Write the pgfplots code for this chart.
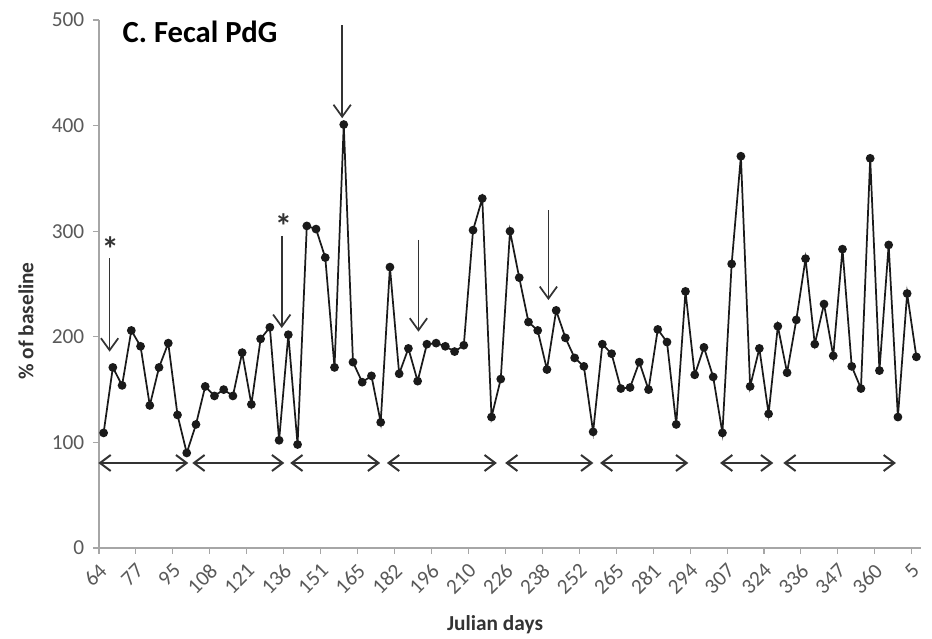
\documentclass[border=0pt]{standalone}
\usepackage{pgfplots}
\pgfplotsset{compat=1.18}
\usepackage{pgfplotstable}
\usepackage{fontspec}
\setmainfont{Carlito}
\usetikzlibrary{arrows.meta}
\definecolor{axgray}{HTML}{A6A6A6}
\definecolor{lblgray}{HTML}{595959}
\definecolor{linecol}{HTML}{1A1A1A}
\definecolor{arrcol}{HTML}{333333}
\pgfplotstableread{
i v
0 109
1 171
2 154
3 206
4 191
5 135
6 171
7 194
8 126
9 90
10 117
11 153
12 144
13 150
14 144
15 185
16 136
17 198
18 209
19 102
20 202
21 98
22 305
23 302
24 275
25 171
26 401
27 176
28 157
29 163
30 119
31 266
32 165
33 189
34 158
35 193
36 194
37 191
38 186
39 192
40 301
41 331
42 124
43 160
44 300
45 256
46 214
47 206
48 169
49 225
50 199
51 180
52 172
53 110
54 193
55 184
56 151
57 152
58 176
59 150
60 207
61 195
62 117
63 243
64 164
65 190
66 162
67 109
68 269
69 371
70 153
71 189
72 127
73 210
74 166
75 216
76 274
77 193
78 231
79 182
80 283
81 172
82 151
83 369
84 168
85 287
86 124
87 241
88 181
}\pdgdata
\tikzset{
  varr/.style={arrcol, line width=1.3pt, -{Straight Barb[length=9pt,width=13pt]}},
  harr/.style={arrcol, line width=1.5pt, {Straight Barb[length=8pt,width=12pt]}-{Straight Barb[length=8pt,width=12pt]}},
  star/.style={font=\fontsize{26}{26}\selectfont\bfseries, text=arrcol, yshift=-6.5pt},
}
\begin{document}
\begin{tikzpicture}
\useasboundingbox (-74.25pt,-68.25pt) rectangle (624.75pt,411pt);
\begin{axis}[
  at={(0pt,0pt)}, anchor=south west,
  scale only axis, width=616.5pt, height=396pt,
  xmin=-0.5, xmax=88.5, ymin=0, ymax=500,
  axis x line*=bottom, axis y line*=left,
  axis line style={axgray, line width=1pt, -},
  ytick={0,100,200,300,400,500},
  xtick={-0.5,3.5,...,87.5}, xticklabels={},
  extra x ticks={0,4,...,88},
  extra x tick labels={64,77,95,108,121,136,151,165,182,196,210,226,238,252,265,281,294,307,324,336,347,360,5},
  extra x tick style={major tick length=0pt},
  tick align=outside, major tick length=4.5pt,
  tick style={axgray, line width=0.8pt},
  /pgf/number format/assume math mode=true,
  ticklabel style={font=\fontsize{16}{19}\selectfont, text=lblgray},
  yticklabel style={xshift=-3pt},
  xticklabel style={yshift=-12pt, xshift=2pt, rotate=45, anchor=east},
  xlabel={Julian days},
  ylabel={\% of baseline},
  label style={font=\fontsize{16}{19}\selectfont\bfseries, text=arrcol},
  xlabel style={at={(axis description cs:0.4818,0)}, anchor=center, yshift=-57.75pt},
  ylabel style={at={(axis description cs:-0.0888,0.43)}, anchor=center},
  clip=false,
]
\addplot[linecol, line width=1.3pt, mark=*, mark size=2.6pt, mark options={fill=linecol, solid}] table[x=i, y=v] {\pdgdata};

\node[anchor=west, font=\fontsize{23}{27}\selectfont\bfseries, text=black] at (axis description cs:0.0231,0.977) {C. Fecal PdG};

\draw[varr] (axis cs:0.65,274.6) -- (axis cs:0.65,185.9);
\draw[varr] (axis cs:19.29,295.5) -- (axis cs:19.29,208.3);
\draw[varr] (axis cs:25.83,495) -- (axis cs:25.83,407);
\draw[varr] (axis cs:34.09,291.7) -- (axis cs:34.09,204.8);
\draw[varr] (axis cs:48.16,320) -- (axis cs:48.16,234.8);

\node[star] at (axis cs:0.72,291.7) {*};
\node[star] at (axis cs:19.48,313) {*};

\draw[harr] (axis cs:-0.57,80.5) -- (axis cs:9.17,80.5);
\draw[harr] (axis cs:9.6,80.5) -- (axis cs:19.56,80.5);
\draw[harr] (axis cs:20.2,80.5) -- (axis cs:29.95,80.5);
\draw[harr] (axis cs:30.67,80.5) -- (axis cs:42.58,80.5);
\draw[harr] (axis cs:43.47,80.5) -- (axis cs:53.03,80.5);
\draw[harr] (axis cs:53.75,80.5) -- (axis cs:63.31,80.5);
\draw[harr] (axis cs:66.74,80.5) -- (axis cs:72.51,80.5);
\draw[harr] (axis cs:73.59,80.5) -- (axis cs:85.79,80.5);
\end{axis}
\end{tikzpicture}
\end{document}
